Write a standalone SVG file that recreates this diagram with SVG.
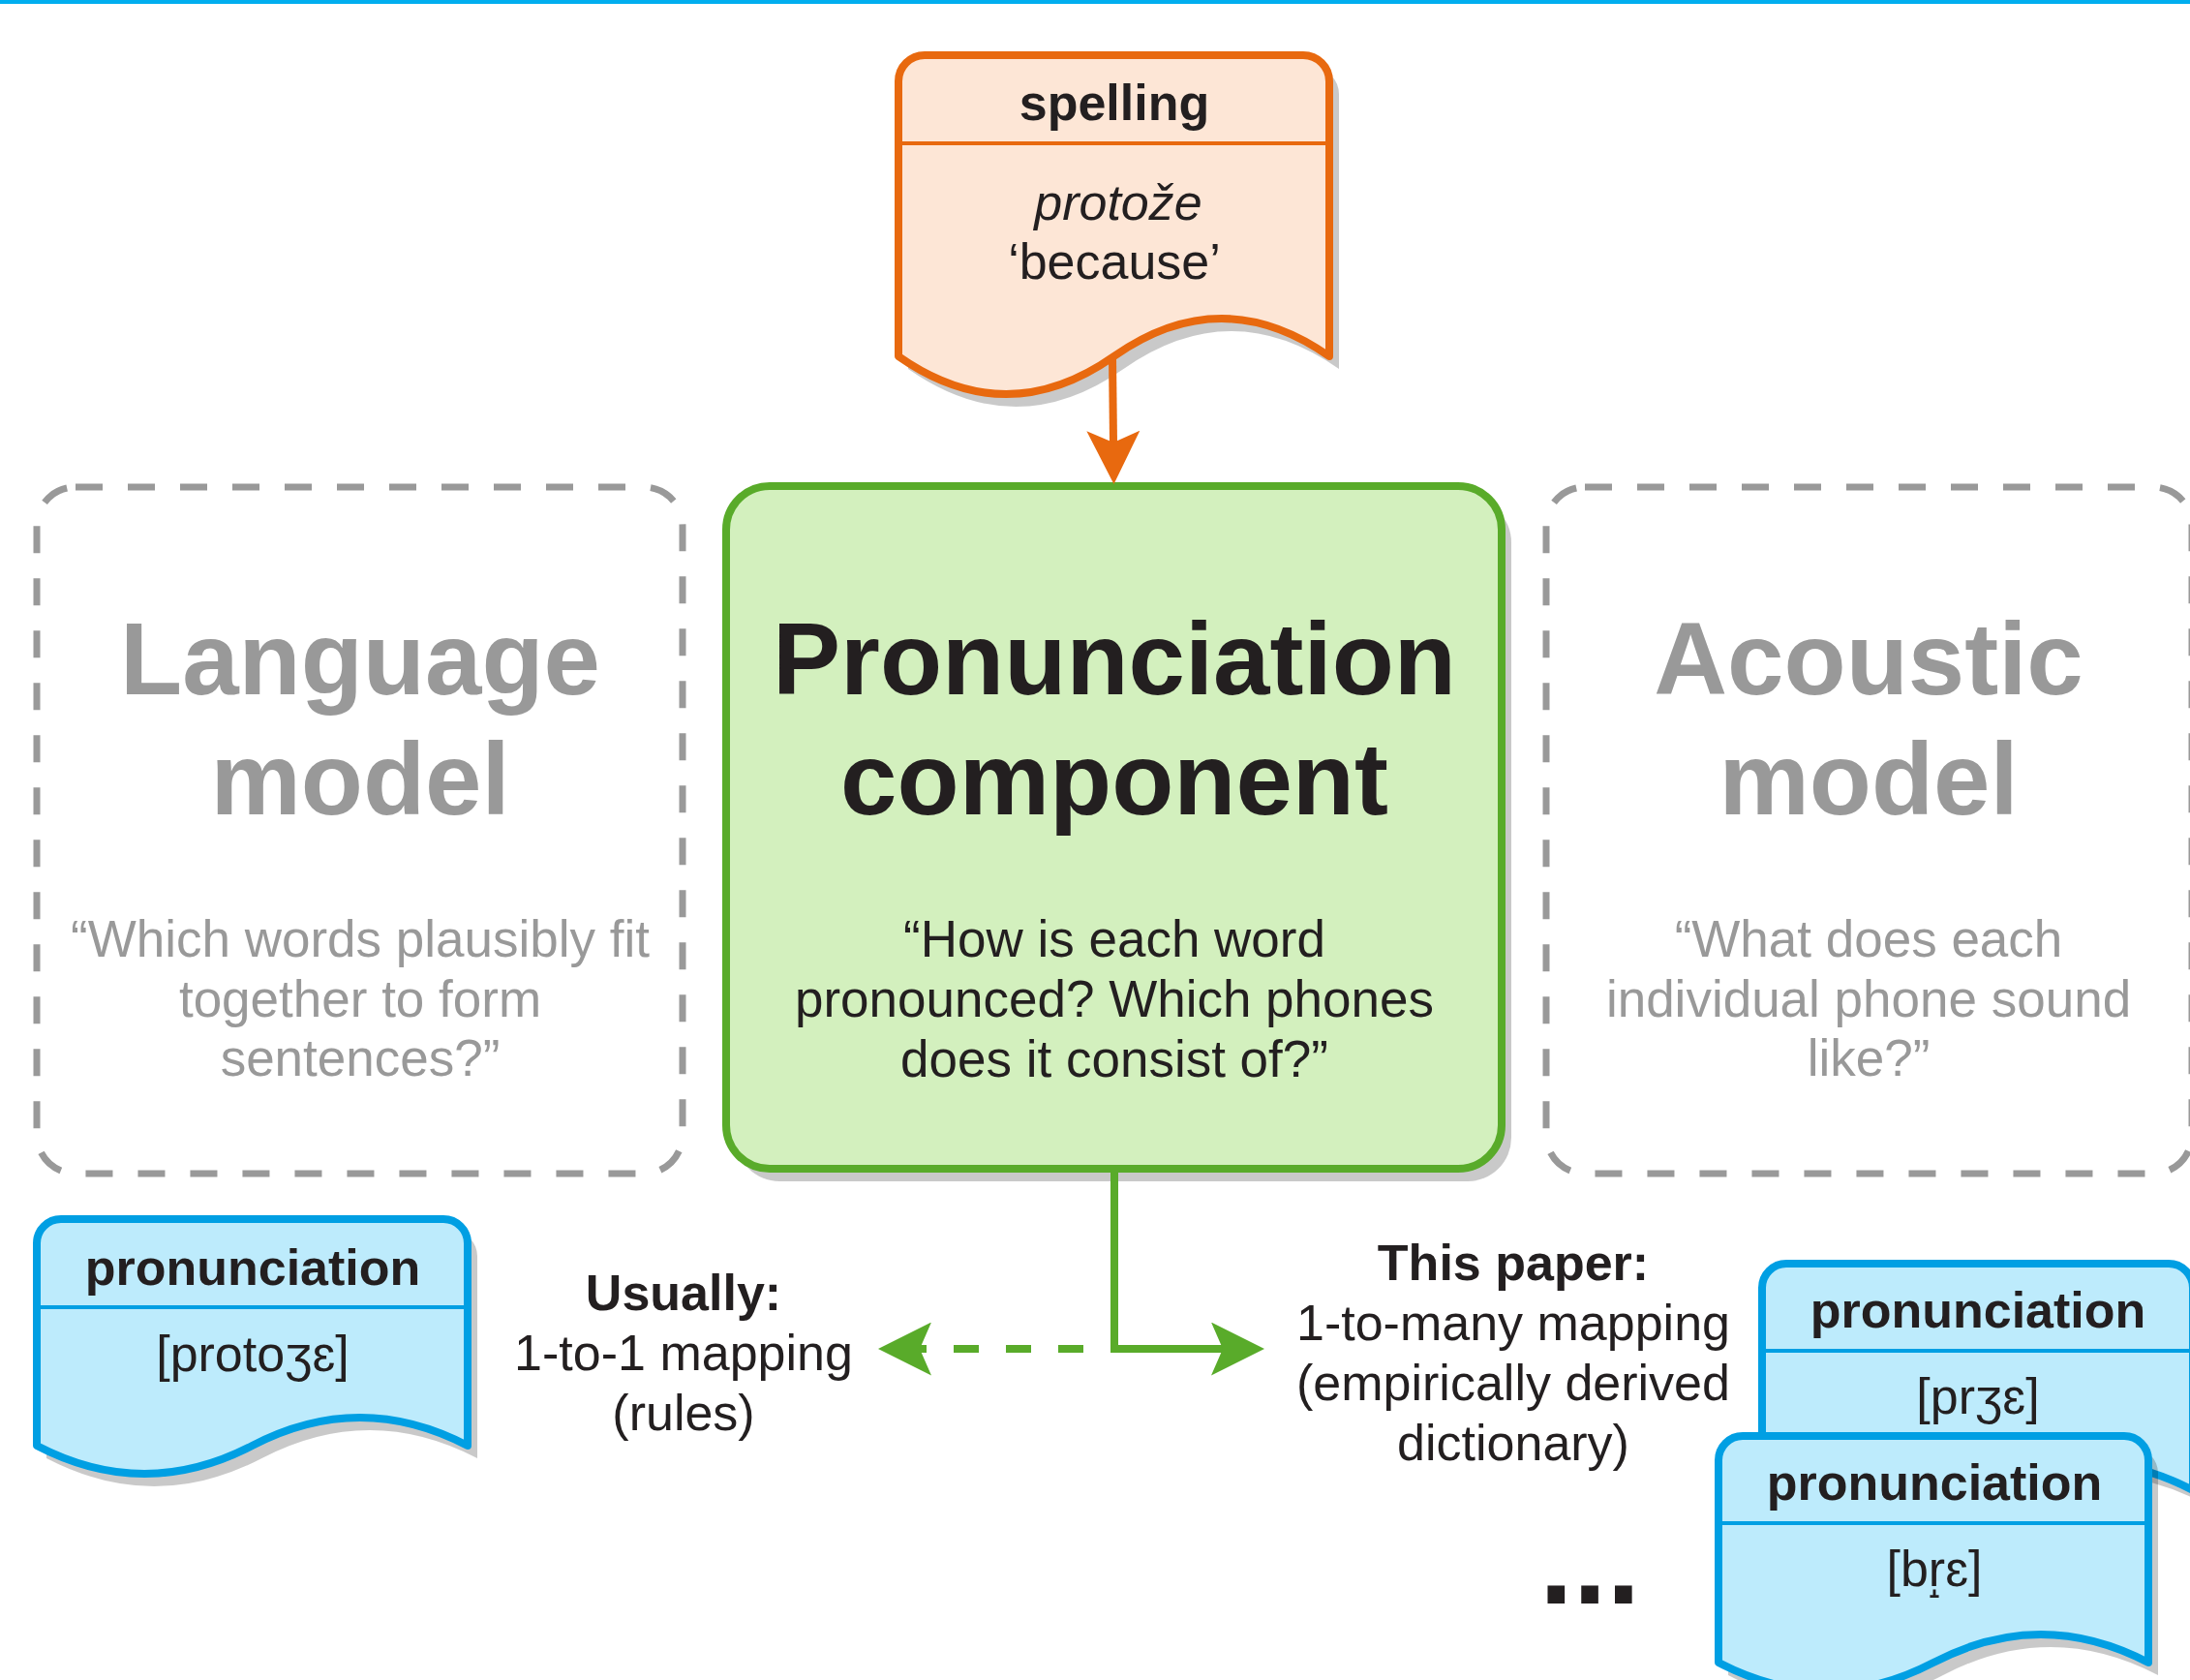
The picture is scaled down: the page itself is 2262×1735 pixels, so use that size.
<svg xmlns="http://www.w3.org/2000/svg" width="2262" height="1735" viewBox="0 0 2262 1735">
<style>
text{font-family:"Liberation Sans",Arial,"DejaVu Sans",sans-serif}
.title{font-size:105px;font-weight:bold;text-anchor:middle}
.q{font-size:53px;text-anchor:middle}
.lbl{font-size:52px;text-anchor:middle}
.b{font-weight:bold}
.dark{fill:#231F20}
.gray{fill:#999999}
.ghost{fill:none;stroke:#999999;stroke-width:7;stroke-dasharray:28 26}
.shadow{fill:#000;fill-opacity:0.21;stroke:none}
.docO{fill:#FDE6D6;stroke:#E8690F;stroke-width:8;stroke-linejoin:round}
.docB{fill:#BDEBFC;stroke:#009FE3;stroke-width:8;stroke-linejoin:round}
.sepO{stroke:#E8690F;stroke-width:4}
.sepB{stroke:#009FE3;stroke-width:4}
.green{fill:#D3F0BE;stroke:#59AB2A;stroke-width:8}
.cO{fill:none;stroke:#E8690F;stroke-width:8}
.cG{fill:none;stroke:#59AB2A;stroke-width:8}
.dash{stroke-dasharray:26 28}
</style>
<defs>
<marker id="ahO" viewBox="0 0 55 55" refX="12" refY="27.5" markerWidth="55" markerHeight="55" orient="auto" markerUnits="userSpaceOnUse"><path d="M0,0 L55,27.5 L0,55 L12,27.5 Z" fill="#E8690F"/></marker>
<marker id="ahG" viewBox="0 0 55 55" refX="12" refY="27.5" markerWidth="55" markerHeight="55" orient="auto" markerUnits="userSpaceOnUse"><path d="M0,0 L55,27.5 L0,55 L12,27.5 Z" fill="#59AB2A"/></marker>
</defs>
<rect x="0" y="0" width="2262" height="4" fill="#00AEEF"/>

<g id="language-model">
<rect class="ghost" x="38" y="503" width="667" height="709" rx="40"/>
<text class="title gray" x="372" y="717">Language</text>
<text class="title gray" x="372" y="841">model</text>
<text class="q gray" x="372" y="988">“Which words plausibly fit</text>
<text class="q gray" x="372" y="1050">together to form</text>
<text class="q gray" x="372" y="1111">sentences?”</text>
</g>

<g id="acoustic-model">
<rect class="ghost" x="1597" y="503" width="667" height="709" rx="40"/>
<text class="title gray" x="1930" y="717">Acoustic</text>
<text class="title gray" x="1930" y="841">model</text>
<text class="q gray" x="1930" y="988">“What does each</text>
<text class="q gray" x="1930" y="1050">individual phone sound</text>
<text class="q gray" x="1930" y="1111">like?”</text>
</g>

<g id="pronunciation-component">
<rect class="shadow" x="760" y="515" width="801" height="705" rx="45"/>
<rect class="green" x="750" y="502" width="801" height="705" rx="45"/>
<text class="title dark" x="1151" y="717">Pronunciation</text>
<text class="title dark" x="1151" y="841">component</text>
<text class="q dark" x="1151" y="988">“How is each word</text>
<text class="q dark" x="1151" y="1050">pronounced? Which phones</text>
<text class="q dark" x="1151" y="1112">does it consist of?”</text>
</g>

<g id="spelling">
<path class="shadow" transform="translate(10,13)" d="M928,84 A27,27 0 0 1 955,57 H1346 A27,27 0 0 1 1373,84 V368 Q1261.75,290 1150.5,368 Q1039.25,446 928,368 Z"/>
<path class="docO" d="M928,84 A27,27 0 0 1 955,57 H1346 A27,27 0 0 1 1373,84 V368 Q1261.75,290 1150.5,368 Q1039.25,446 928,368 Z"/>
<line class="sepO" x1="928" y1="148" x2="1373" y2="148"/>
<text class="lbl b dark" x="1151" y="124">spelling</text>
<text class="lbl dark" x="1155" y="227" font-style="italic">protože</text>
<text class="lbl dark" x="1151" y="288">‘because’</text>
</g>

<g id="pron-left">
<path class="shadow" transform="translate(10,13)" d="M38,1284 A25,25 0 0 1 63,1259 H458 A25,25 0 0 1 483,1284 V1493 Q371.75,1435 260.5,1493 Q149.25,1551 38,1493 Z"/>
<path class="docB" d="M38,1284 A25,25 0 0 1 63,1259 H458 A25,25 0 0 1 483,1284 V1493 Q371.75,1435 260.5,1493 Q149.25,1551 38,1493 Z"/>
<line class="sepB" x1="38" y1="1350" x2="483" y2="1350"/>
<text class="lbl b dark" x="261" y="1327">pronunciation</text>
<text class="lbl dark" x="261" y="1416">[protoʒɛ]</text>
</g>

<g id="pron-right-back">
<path class="shadow" transform="translate(10,13)" d="M1820,1330 A25,25 0 0 1 1845,1305 H2240 A25,25 0 0 1 2265,1330 V1539 Q2153.75,1481 2042.5,1539 Q1931.25,1597 1820,1539 Z"/>
<path class="docB" d="M1820,1330 A25,25 0 0 1 1845,1305 H2240 A25,25 0 0 1 2265,1330 V1539 Q2153.75,1481 2042.5,1539 Q1931.25,1597 1820,1539 Z"/>
<line class="sepB" x1="1820" y1="1395" x2="2265" y2="1395"/>
<text class="lbl b dark" x="2043" y="1371">pronunciation</text>
<text class="lbl dark" x="2043" y="1460">[prʒɛ]</text>
</g>

<g id="pron-right-front">
<path class="shadow" transform="translate(10,13)" d="M1775,1508 A25,25 0 0 1 1800,1483 H2194 A25,25 0 0 1 2219,1508 V1717 Q2108,1659 1997,1717 Q1886,1775 1775,1717 Z"/>
<path class="docB" d="M1775,1508 A25,25 0 0 1 1800,1483 H2194 A25,25 0 0 1 2219,1508 V1717 Q2108,1659 1997,1717 Q1886,1775 1775,1717 Z"/>
<line class="sepB" x1="1775" y1="1573" x2="2219" y2="1573"/>
<text class="lbl b dark" x="1998" y="1549">pronunciation</text>
<text class="lbl dark" x="1998" y="1638">[br̝ɛ]</text>
</g>

<g id="label-usually">
<text class="lbl b dark" x="706" y="1353">Usually:</text>
<text class="lbl dark" x="706" y="1415">1-to-1 mapping</text>
<text class="lbl dark" x="706" y="1477">(rules)</text>
</g>

<g id="label-this-paper">
<text class="lbl b dark" x="1563" y="1322">This paper:</text>
<text class="lbl dark" x="1563" y="1384">1-to-many mapping</text>
<text class="lbl dark" x="1563" y="1446">(empirically derived</text>
<text class="lbl dark" x="1563" y="1508">dictionary)</text>
</g>

<g id="ellipsis">
<text class="b dark" x="1590" y="1656" font-size="125">...</text>
</g>

<g id="connectors">
<path class="cO" d="M1149,369 L1150,457" marker-end="url(#ahO)"/>
<path class="cG" d="M1151,1207 V1393 H1263" marker-end="url(#ahG)"/>
<path class="cG dash" d="M1119,1393 H950" marker-end="url(#ahG)"/>
</g>
</svg>
